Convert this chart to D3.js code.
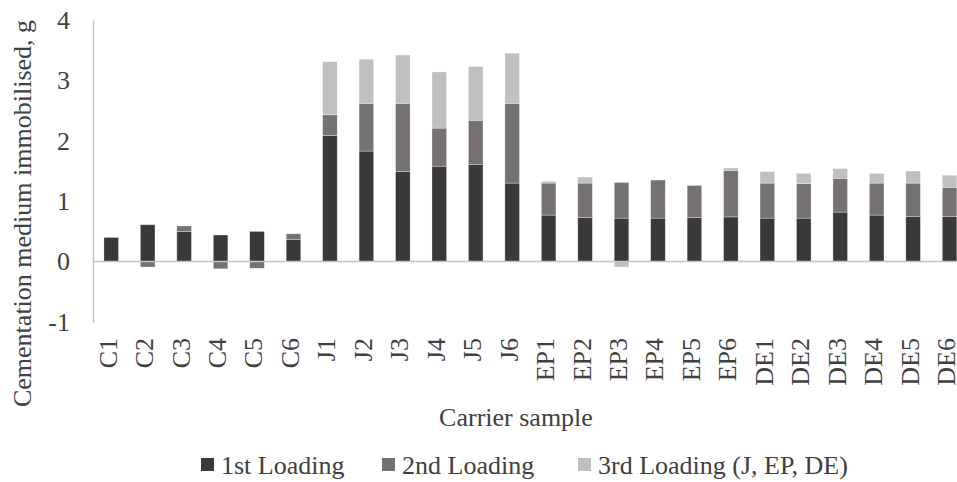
<!DOCTYPE html>
<html>
<head>
<meta charset="utf-8">
<script src="https://cdn.jsdelivr.net/npm/d3@7/dist/d3.min.js"></script>
<style>
  html, body { margin: 0; padding: 0; background: #fff; }
  svg { display: block; }
</style>
</head>
<body>
<svg id="chart" width="957" height="482"></svg>
<script>
// Carrier samples along the x axis
const categories = ["C1","C2","C3","C4","C5","C6",
                    "J1","J2","J3","J4","J5","J6",
                    "EP1","EP2","EP3","EP4","EP5","EP6",
                    "DE1","DE2","DE3","DE4","DE5","DE6"];

// Mass of cementation medium immobilised per loading (g)
const loading1 = [0.40,0.61,0.50,0.44,0.50,0.37,
                  2.09,1.83,1.49,1.58,1.61,1.30,
                  0.77,0.73,0.72,0.72,0.73,0.74,
                  0.72,0.72,0.82,0.77,0.75,0.75];
const loading2 = [0.00,-0.09,0.09,-0.12,-0.11,0.09,
                  0.34,0.79,1.13,0.63,0.73,1.32,
                  0.53,0.57,0.59,0.63,0.53,0.77,
                  0.58,0.57,0.56,0.53,0.55,0.48];
const loading3 = [0,0,0,0,0,0,
                  0.88,0.73,0.80,0.93,0.89,0.83,
                  0.03,0.10,-0.09,0.00,0.00,0.04,
                  0.19,0.17,0.16,0.16,0.20,0.20];

const seriesNames = ["1st Loading", "2nd Loading", "3rd Loading (J, EP, DE)"];
const seriesColors = ["#3b3838", "#767171", "#bfbfbf"];
const yTicks = [-1, 0, 1, 2, 3, 4];

const FONT = "'Liberation Serif'";
const TEXT = "#404040";
const FS = 26;

const rows = categories.map((c, i) => ({
  cat: c, s0: loading1[i], s1: loading2[i], s2: loading3[i]
}));

const svg = d3.select("#chart");
const W = 957;
const plotLeft = 93, step = 36.45;
const plotTop = 20, plotBottom = 322;

const x = d3.scaleBand()
  .domain(categories)
  .range([plotLeft, plotLeft + step * categories.length])
  .paddingInner(0.6)
  .paddingOuter(0.3);

const y = d3.scaleLinear().domain([-1, 4]).range([plotBottom, plotTop]);

const stack = d3.stack()
  .keys(["s0", "s1", "s2"])
  .offset(d3.stackOffsetDiverging);
const layers = stack(rows);

// Stacked bars
svg.append("g").selectAll("g")
  .data(layers)
  .join("g")
  .attr("fill", (d, i) => seriesColors[i])
  .selectAll("rect")
  .data(d => d)
  .join("rect")
  .attr("x", d => x(d.data.cat))
  .attr("width", x.bandwidth())
  .attr("y", d => y(Math.max(d[0], d[1])))
  .attr("height", d => Math.abs(y(d[0]) - y(d[1])))
  .attr("stroke", "#ffffff")
  .attr("stroke-opacity", 0.5)
  .attr("stroke-width", 0.6);

// Vertical value axis line (labels drawn separately below)
const yAxis = d3.axisLeft(y).tickValues(yTicks).tickSize(0).tickFormat("");
const gy = svg.append("g").attr("transform", `translate(${plotLeft},0)`).call(yAxis);
gy.select(".domain").attr("stroke", "#c4c4c4").attr("stroke-width", 1.5);

svg.append("g").selectAll("text")
  .data(yTicks)
  .join("text")
  .attr("x", plotLeft - 23)
  .attr("y", d => y(d))
  .attr("dy", "0.34em")
  .attr("text-anchor", "end")
  .attr("font-family", FONT)
  .attr("font-size", FS)
  .attr("fill", TEXT)
  .text(d => d < 0 ? "-" + Math.abs(d) : String(d));

// Horizontal category axis at zero
svg.append("line")
  .attr("x1", plotLeft).attr("x2", W)
  .attr("y1", y(0)).attr("y2", y(0))
  .attr("stroke", "#c4c4c4").attr("stroke-width", 1.5);

// Category labels, rotated, hung below the plot
svg.append("g").selectAll("text")
  .data(categories)
  .join("text")
  .attr("transform", d => `translate(${x(d) + x.bandwidth() / 2},338) rotate(-90)`)
  .attr("text-anchor", "end")
  .attr("dy", "0.21em")
  .attr("font-family", FONT)
  .attr("font-size", FS)
  .attr("fill", TEXT)
  .text(d => d);

// Axis titles
svg.append("text")
  .attr("transform", "translate(31,213.5) rotate(-90)")
  .attr("text-anchor", "middle")
  .attr("font-family", FONT)
  .attr("font-size", FS)
  .attr("fill", TEXT)
  .text("Cementation medium immobilised, g");

svg.append("text")
  .attr("x", 516).attr("y", 426)
  .attr("text-anchor", "middle")
  .attr("font-family", FONT)
  .attr("font-size", FS)
  .attr("fill", TEXT)
  .text("Carrier sample");

// Legend
const legendX = [201, 382, 578];
const lg = svg.append("g").selectAll("g")
  .data(seriesNames)
  .join("g")
  .attr("transform", (d, i) => `translate(${legendX[i]},0)`);
lg.append("rect")
  .attr("x", 0).attr("y", 458)
  .attr("width", 13).attr("height", 13)
  .attr("fill", (d, i) => seriesColors[i]);
lg.append("text")
  .attr("x", 20).attr("y", 474)
  .attr("font-family", FONT)
  .attr("font-size", FS)
  .attr("fill", TEXT)
  .text(d => d);
</script>
</body>
</html>
